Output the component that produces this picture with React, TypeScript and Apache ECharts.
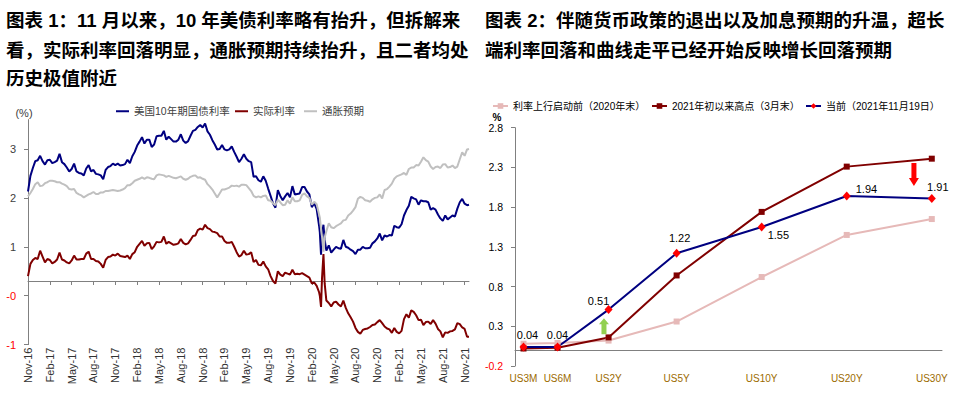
import React, { useEffect, useRef } from "react";
import * as echarts from "echarts";

const FONT = '"Liberation Sans", Arial, "Noto Sans CJK SC", sans-serif';

const title1Lines = [
  "图表 1：11 月以来，10 年美债利率略有抬升，但拆解来",
  "看，实际利率回落明显，通胀预期持续抬升，且二者均处",
  "历史极值附近",
];
const title2Lines = [
  "图表 2：伴随货币政策的退出以及加息预期的升温，超长",
  "端利率回落和曲线走平已经开始反映增长回落预期",
];

// ---------- Left chart data ----------
const leftSeriesNames = ["美国10年期国债利率", "实际利率", "通胀预期"];
const xTickLabels = [
  "Nov-16", "Feb-17", "May-17", "Aug-17", "Nov-17", "Feb-18", "May-18", "Aug-18", "Nov-18",
  "Feb-19", "May-19", "Aug-19", "Nov-19", "Feb-20", "May-20", "Aug-20", "Nov-20", "Feb-21",
  "May-21", "Aug-21", "Nov-21",
];
const leftYTicks = [-1.3, -0.3, 0.7, 1.7, 2.7];

const dates = [
  "2016-11-01", "2016-11-11", "2016-11-21", "2016-12-01", "2016-12-11", "2016-12-21",
  "2017-01-01", "2017-01-11", "2017-01-21", "2017-02-01", "2017-02-11", "2017-02-21",
  "2017-03-01", "2017-03-11", "2017-03-21", "2017-04-01", "2017-04-11", "2017-04-21",
  "2017-05-01", "2017-05-11", "2017-05-21", "2017-06-01", "2017-06-11", "2017-06-21",
  "2017-07-01", "2017-07-11", "2017-07-21", "2017-08-01", "2017-08-11", "2017-08-21",
  "2017-09-01", "2017-09-11", "2017-09-21", "2017-10-01", "2017-10-11", "2017-10-21",
  "2017-11-01", "2017-11-11", "2017-11-21", "2017-12-01", "2017-12-11", "2017-12-21",
  "2018-01-01", "2018-01-11", "2018-01-21", "2018-02-01", "2018-02-11", "2018-02-21",
  "2018-03-01", "2018-03-11", "2018-03-21", "2018-04-01", "2018-04-11", "2018-04-21",
  "2018-05-01", "2018-05-11", "2018-05-21", "2018-06-01", "2018-06-11", "2018-06-21",
  "2018-07-01", "2018-07-11", "2018-07-21", "2018-08-01", "2018-08-11", "2018-08-21",
  "2018-09-01", "2018-09-11", "2018-09-21", "2018-10-01", "2018-10-11", "2018-10-21",
  "2018-11-01", "2018-11-11", "2018-11-21", "2018-12-01", "2018-12-11", "2018-12-21",
  "2019-01-01", "2019-01-11", "2019-01-21", "2019-02-01", "2019-02-11", "2019-02-21",
  "2019-03-01", "2019-03-11", "2019-03-21", "2019-04-01", "2019-04-11", "2019-04-21",
  "2019-05-01", "2019-05-11", "2019-05-21", "2019-06-01", "2019-06-11", "2019-06-21",
  "2019-07-01", "2019-07-11", "2019-07-21", "2019-08-01", "2019-08-11", "2019-08-21",
  "2019-09-01", "2019-09-11", "2019-09-21", "2019-10-01", "2019-10-11", "2019-10-21",
  "2019-11-01", "2019-11-11", "2019-11-21", "2019-12-01", "2019-12-11", "2019-12-21",
  "2020-01-01", "2020-01-11", "2020-01-21", "2020-02-01", "2020-02-11", "2020-02-21",
  "2020-03-01", "2020-03-04", "2020-03-09", "2020-03-13", "2020-03-19", "2020-03-24",
  "2020-04-01", "2020-04-11", "2020-04-21", "2020-05-01", "2020-05-11", "2020-05-21",
  "2020-06-01", "2020-06-11", "2020-06-21", "2020-07-01", "2020-07-11", "2020-07-21",
  "2020-08-01", "2020-08-11", "2020-08-21", "2020-09-01", "2020-09-11", "2020-09-21",
  "2020-10-01", "2020-10-11", "2020-10-21", "2020-11-01", "2020-11-11", "2020-11-21",
  "2020-12-01", "2020-12-11", "2020-12-21",
  "2021-01-01", "2021-01-11", "2021-01-21", "2021-02-01", "2021-02-11", "2021-02-21",
  "2021-03-01", "2021-03-11", "2021-03-21", "2021-04-01", "2021-04-11", "2021-04-21",
  "2021-05-01", "2021-05-11", "2021-05-21", "2021-06-01", "2021-06-11", "2021-06-21",
  "2021-07-01", "2021-07-11", "2021-07-21", "2021-08-01", "2021-08-11", "2021-08-21",
  "2021-09-01", "2021-09-11", "2021-09-21", "2021-10-01", "2021-10-11", "2021-10-21",
  "2021-11-01", "2021-11-11", "2021-11-19",
];

const nominal10Y = [
  1.83, 2.15, 2.31, 2.45, 2.47, 2.56,
  2.45, 2.38, 2.47, 2.48, 2.41, 2.43, 2.46, 2.60, 2.43, 2.39, 2.32, 2.24,
  2.29, 2.40, 2.24, 2.21, 2.20, 2.16, 2.30, 2.37, 2.24, 2.27, 2.19, 2.18,
  2.16, 2.08, 2.27, 2.33, 2.35, 2.40, 2.37, 2.40, 2.36, 2.37, 2.39, 2.48,
  2.41, 2.55, 2.64, 2.77, 2.85, 2.94, 2.81, 2.89, 2.89, 2.74, 2.79, 2.96,
  2.97, 2.97, 3.07, 2.89, 2.95, 2.90, 2.85, 2.85, 2.89, 3.00, 2.87, 2.82,
  2.86, 2.97, 3.07, 3.09, 3.15, 3.19, 3.14, 3.22, 3.06, 2.99, 2.88, 2.79,
  2.69, 2.70, 2.78, 2.69, 2.67, 2.69, 2.75, 2.64, 2.54, 2.43, 2.50, 2.59,
  2.50, 2.45, 2.43, 2.13, 2.14, 2.06, 2.03, 2.14, 2.05, 1.89, 1.74, 1.59,
  1.50, 1.86, 1.74, 1.65, 1.73, 1.80, 1.71, 1.94, 1.77, 1.78, 1.79, 1.92,
  1.92, 1.83, 1.77, 1.51, 1.59, 1.47, 1.13, 1.00, 0.54, 0.96, 1.15, 0.84,
  0.62, 0.73, 0.58, 0.64, 0.70, 0.67, 0.66, 0.84, 0.70, 0.68, 0.64, 0.61,
  0.55, 0.64, 0.64, 0.70, 0.67, 0.67, 0.68, 0.77, 0.81, 0.87, 0.97, 0.83,
  0.93, 0.91, 0.94,
  0.93, 1.13, 1.10, 1.09, 1.16, 1.34, 1.45, 1.54, 1.72, 1.69, 1.67, 1.56,
  1.65, 1.63, 1.63, 1.61, 1.46, 1.49, 1.46, 1.36, 1.28, 1.23, 1.34, 1.26,
  1.30, 1.34, 1.32, 1.48, 1.61, 1.68, 1.58, 1.55, 1.56,
];

const realRate = [
  0.10, 0.35, 0.43, 0.47, 0.45, 0.62,
  0.50, 0.38, 0.45, 0.43, 0.36, 0.39, 0.44, 0.58, 0.44, 0.42, 0.38, 0.36,
  0.42, 0.52, 0.44, 0.44, 0.45, 0.45, 0.56, 0.60, 0.45, 0.45, 0.41, 0.40,
  0.35, 0.27, 0.43, 0.49, 0.50, 0.54, 0.52, 0.56, 0.51, 0.50, 0.49, 0.52,
  0.45, 0.55, 0.59, 0.70, 0.76, 0.82, 0.72, 0.77, 0.78, 0.65, 0.71, 0.80,
  0.79, 0.80, 0.91, 0.76, 0.80, 0.77, 0.74, 0.75, 0.77, 0.86, 0.78, 0.75,
  0.77, 0.84, 0.92, 0.93, 1.04, 1.07, 1.05, 1.15, 1.08, 1.06, 1.01, 1.00,
  0.98, 0.91, 0.91, 0.82, 0.78, 0.78, 0.80, 0.70, 0.59, 0.50, 0.53, 0.62,
  0.54, 0.55, 0.59, 0.39, 0.43, 0.33, 0.32, 0.40, 0.30, 0.24, 0.10, 0.00,
  -0.05, 0.20, 0.13, 0.10, 0.17, 0.15, 0.13, 0.23, 0.14, 0.15, 0.14, 0.16,
  0.13, 0.10, 0.07, -0.05, -0.03, -0.10, -0.23, -0.30, -0.53, 0.05, 0.55, -0.05,
  -0.40, -0.45, -0.52, -0.44, -0.42, -0.48, -0.52, -0.40, -0.55, -0.66, -0.74, -0.83,
  -0.96, -1.04, -1.08, -1.00, -0.98, -0.97, -0.94, -0.90, -0.89, -0.84, -0.80, -0.86,
  -0.93, -0.97, -0.99,
  -1.06, -0.96, -1.04, -1.07, -1.02, -0.78, -0.68, -0.75, -0.60, -0.63, -0.70, -0.80,
  -0.79, -0.90, -0.84, -0.83, -0.88, -0.80, -0.87, -0.98, -1.03, -1.15, -1.05, -1.06,
  -1.03, -1.02, -0.99, -0.86, -0.88, -0.95, -0.98, -1.14, -1.14,
];

const breakeven = [
  1.73, 1.80, 1.88, 1.98, 2.02, 1.94,
  1.95, 2.00, 2.02, 2.05, 2.05, 2.04, 2.02, 2.02, 1.99, 1.97, 1.94, 1.88,
  1.87, 1.88, 1.80, 1.77, 1.75, 1.71, 1.74, 1.77, 1.79, 1.82, 1.78, 1.78,
  1.81, 1.81, 1.84, 1.84, 1.85, 1.86, 1.85, 1.84, 1.85, 1.87, 1.90, 1.96,
  1.96, 2.00, 2.05, 2.07, 2.09, 2.12, 2.09, 2.12, 2.11, 2.09, 2.08, 2.16,
  2.18, 2.17, 2.16, 2.13, 2.15, 2.13, 2.11, 2.10, 2.12, 2.14, 2.09, 2.07,
  2.09, 2.13, 2.15, 2.16, 2.11, 2.12, 2.09, 2.07, 1.98, 1.93, 1.87, 1.79,
  1.71, 1.79, 1.87, 1.87, 1.89, 1.91, 1.95, 1.94, 1.95, 1.93, 1.97, 1.97,
  1.96, 1.90, 1.84, 1.74, 1.71, 1.73, 1.71, 1.74, 1.75, 1.65, 1.64, 1.59,
  1.55, 1.66, 1.61, 1.55, 1.56, 1.65, 1.58, 1.71, 1.63, 1.63, 1.65, 1.76,
  1.79, 1.73, 1.70, 1.56, 1.62, 1.57, 1.36, 1.30, 1.07, 0.91, 0.60, 0.89,
  1.02, 1.18, 1.10, 1.08, 1.12, 1.15, 1.18, 1.24, 1.25, 1.34, 1.38, 1.44,
  1.51, 1.68, 1.72, 1.70, 1.65, 1.64, 1.62, 1.67, 1.70, 1.71, 1.77, 1.69,
  1.86, 1.88, 1.93,
  1.99, 2.09, 2.14, 2.16, 2.18, 2.21, 2.17, 2.29, 2.32, 2.32, 2.37, 2.36,
  2.44, 2.53, 2.47, 2.44, 2.34, 2.29, 2.33, 2.34, 2.31, 2.38, 2.39, 2.32,
  2.33, 2.36, 2.31, 2.34, 2.49, 2.63, 2.56, 2.69, 2.70,
];

// ---------- Right chart data ----------
const rightSeriesNames = ["利率上行启动前（2020年末）", "2021年初以来高点（3月末）", "当前（2021年11月19日）"];
const tenors = ["US3M", "US6M", "US2Y", "US5Y", "US10Y", "US20Y", "US30Y"];
const tenorSlots = [0, 0.4, 1, 1.8, 2.8, 3.8, 4.8];
const curveEnd2020 = [0.08, 0.09, 0.12, 0.36, 0.92, 1.45, 1.65];
const curveMar2021 = [0.02, 0.03, 0.16, 0.94, 1.74, 2.31, 2.41];
const curveNov2021 = [0.04, 0.04, 0.51, 1.22, 1.55, 1.94, 1.91];

const toMonthIndex = (d: string) => {
  const [y, m, day] = d.split("-").map(Number);
  return (y - 2016) * 12 + (m - 11) + (day - 1) / 30;
};

const GRAY = "#808080";

function buildOption() {
  const xs = dates.map(toMonthIndex);
  const pair = (vals: number[]) => xs.map((x, i) => [x, vals[i]]);
  const leftTickValues = xTickLabels.map((_, i) => i * 3);

  const lineBase = {
    type: "line",
    symbol: "none",
    showSymbol: false,
    xAxisIndex: 0,
    yAxisIndex: 0,
    emphasis: { disabled: true },
    silent: true,
  };

  const labelPlace = [
    { position: "top", offset: [4, 3] },
    { position: "top", offset: [0, 3] },
    { position: "top", offset: [-10, 6] },
    { position: "top", offset: [3, 0] },
    { position: "right", offset: [-3, 8] },
    { position: "right", offset: [0, -7] },
    { position: "top", offset: [6, 4] },
  ];

  const titleTexts: any[] = [];
  title1Lines.forEach((t, i) => {
    titleTexts.push({
      type: "text",
      x: 6,
      y: [20, 50, 78][i],
      style: { text: t, fill: "#000", fontSize: 18.5, fontWeight: "bold", fontFamily: FONT, verticalAlign: "middle" },
    });
  });
  title2Lines.forEach((t, i) => {
    titleTexts.push({
      type: "text",
      x: 485,
      y: [20, 50][i],
      style: { text: t, fill: "#000", fontSize: 18.5, fontWeight: "bold", fontFamily: FONT, verticalAlign: "middle" },
    });
  });

  const leftLegend = (name: string, left: number, w: number) => ({
    left,
    top: 106,
    padding: 0,
    icon: "rect",
    itemWidth: w,
    itemHeight: 2,
    textStyle: { fontSize: 10.5, color: "#404040", fontFamily: FONT },
    data: [name],
    selectedMode: false,
  });
  const rightLegend = (name: string, left: number) => ({
    left,
    top: 101,
    padding: 0,
    itemWidth: 15,
    itemHeight: 7,
    textStyle: { fontSize: 10, color: "#000", fontFamily: FONT },
    data: [name],
    selectedMode: false,
  });

  return {
    animation: false,
    textStyle: { fontFamily: FONT },
    graphic: [
      ...titleTexts,
      {
        type: "text",
        x: 24,
        y: 113,
        style: { text: "(%)", fill: "#404040", fontSize: 11, fontFamily: FONT, align: "center", verticalAlign: "middle" },
      },
      {
        type: "text",
        x: 497,
        y: 117,
        style: { text: "%", fill: "#000", fontSize: 10, fontWeight: "bold", fontFamily: FONT, align: "center", verticalAlign: "middle" },
      },
    ],
    legend: [
      leftLegend(leftSeriesNames[0], 116, 13),
      leftLegend(leftSeriesNames[1], 235, 13),
      leftLegend(leftSeriesNames[2], 304, 13),
      rightLegend(rightSeriesNames[0], 492),
      rightLegend(rightSeriesNames[1], 651),
      rightLegend(rightSeriesNames[2], 805),
    ],
    grid: [
      { left: 28, top: 119.6, width: 441, height: 225, containLabel: false, outerBoundsMode: "none" },
      { left: 515, top: 127.7, width: 427, height: 238.3, containLabel: false, outerBoundsMode: "none" },
    ],
    xAxis: [
      {
        type: "value",
        gridIndex: 0,
        min: 0,
        max: 60.6,
        axisLine: { show: true, onZero: true, lineStyle: { color: GRAY, width: 1 } },
        axisTick: { show: true, inside: false, length: 4, customValues: leftTickValues, lineStyle: { color: GRAY } },
        axisLabel: { show: false },
        splitLine: { show: false },
      },
      {
        type: "value",
        gridIndex: 1,
        min: -0.1,
        max: 4.92,
        axisLine: { show: true, onZero: true, lineStyle: { color: GRAY, width: 1 } },
        axisTick: { show: false },
        axisLabel: { show: false },
        splitLine: { show: false },
      },
      {
        type: "value",
        gridIndex: 0,
        position: "bottom",
        min: 0,
        max: 60.6,
        axisLine: { show: false, onZero: false },
        axisTick: { show: false },
        axisLabel: {
          customValues: leftTickValues,
          rotate: 90,
          margin: 3,
          fontSize: 11,
          color: "#333",
          fontFamily: FONT,
          formatter: (v: number) => xTickLabels[Math.round(v / 3)] ?? "",
        },
        splitLine: { show: false },
      },
      {
        type: "value",
        gridIndex: 1,
        position: "bottom",
        min: -0.1,
        max: 4.92,
        axisLine: { show: false, onZero: false },
        axisTick: { show: false },
        axisLabel: {
          customValues: tenorSlots,
          margin: 7,
          fontSize: 10,
          color: "#9c6b00",
          fontFamily: FONT,
          formatter: (v: number) => {
            const i = tenorSlots.findIndex((s) => Math.abs(s - v) < 1e-6);
            return i >= 0 ? tenors[i] : "";
          },
        },
        splitLine: { show: false },
      },
    ],
    yAxis: [
      {
        type: "value",
        gridIndex: 0,
        min: -1.3,
        max: 3.3,
        axisLine: { show: true, onZero: false, lineStyle: { color: GRAY, width: 1 } },
        axisTick: { show: true, length: 4, customValues: leftYTicks, lineStyle: { color: GRAY } },
        axisLabel: {
          customValues: leftYTicks,
          margin: 12,
          fontSize: 11,
          color: "#404040",
          fontFamily: FONT,
          formatter: (v: number) => {
            const r = Math.round(v);
            return v < 0 ? "{neg|-" + Math.abs(r) + "}" : String(r);
          },
          rich: { neg: { color: "#ff0000", fontSize: 11, fontFamily: FONT } },
        },
        splitLine: { show: false },
      },
      {
        type: "value",
        gridIndex: 1,
        min: -0.2,
        max: 2.8,
        interval: 0.5,
        axisLine: { show: true, onZero: false, lineStyle: { color: GRAY, width: 1 } },
        axisTick: { show: true, length: 4, lineStyle: { color: GRAY } },
        axisLabel: {
          margin: 12,
          fontSize: 10.5,
          color: "#000",
          fontFamily: FONT,
          formatter: (v: number) => (v < 0 ? "{neg|" + v.toFixed(1) + "}" : v.toFixed(1)),
          rich: { neg: { color: "#ff0000", fontSize: 10.5, fontFamily: FONT } },
        },
        splitLine: { show: false },
      },
    ],
    series: [
      { ...lineBase, name: leftSeriesNames[0], data: pair(nominal10Y), lineStyle: { color: "#000080", width: 2 }, itemStyle: { color: "#000080" } },
      { ...lineBase, name: leftSeriesNames[1], data: pair(realRate), lineStyle: { color: "#800000", width: 2 }, itemStyle: { color: "#800000" } },
      { ...lineBase, name: leftSeriesNames[2], data: pair(breakeven), lineStyle: { color: "#c0c0c0", width: 2 }, itemStyle: { color: "#c0c0c0" } },
      {
        type: "line",
        name: rightSeriesNames[0],
        xAxisIndex: 1,
        yAxisIndex: 1,
        data: tenorSlots.map((x, i) => [x, curveEnd2020[i]]),
        symbol: "rect",
        symbolSize: 6,
        lineStyle: { color: "#e6b9b8", width: 2 },
        itemStyle: { color: "#e6b9b8" },
        emphasis: { disabled: true },
        silent: true,
      },
      {
        type: "line",
        name: rightSeriesNames[1],
        xAxisIndex: 1,
        yAxisIndex: 1,
        data: tenorSlots.map((x, i) => [x, curveMar2021[i]]),
        symbol: "rect",
        symbolSize: 6,
        lineStyle: { color: "#800000", width: 2 },
        itemStyle: { color: "#800000" },
        emphasis: { disabled: true },
        silent: true,
      },
      {
        type: "line",
        name: rightSeriesNames[2],
        xAxisIndex: 1,
        yAxisIndex: 1,
        data: tenorSlots.map((x, i) => ({
          value: [x, curveNov2021[i]],
          label: { show: true, position: labelPlace[i].position, offset: labelPlace[i].offset },
        })),
        symbol: "diamond",
        symbolSize: [8, 9],
        lineStyle: { color: "#000080", width: 2 },
        itemStyle: { color: "#ff0000" },
        label: {
          show: true,
          color: "#000",
          fontSize: 11,
          fontFamily: FONT,
          distance: 5,
          formatter: (p: any) => Number(p.value[1]).toFixed(2),
        },
        emphasis: { disabled: true },
        silent: true,
        markPoint: {
          silent: true,
          label: { show: false },
          data: [
            {
              coord: [0.946, 0.3],
              symbol: "path://M0,6L5,0L10,6L7.5,6L7.5,16L2.5,16L2.5,6Z",
              symbolSize: [10, 16],
              itemStyle: { color: "#92d050" },
            },
            {
              coord: [4.59, 2.21],
              symbol: "path://M2.5,0L7.5,0L7.5,15L10,15L5,23L0,15L2.5,15Z",
              symbolSize: [10, 23],
              itemStyle: { color: "#ff0000" },
            },
          ],
        },
      },
    ],
  };
}

export default function App() {
  const ref = useRef<HTMLDivElement>(null);
  useEffect(() => {
    if (!ref.current) return;
    const chart = echarts.init(ref.current, null, { renderer: "svg" });
    chart.setOption(buildOption() as any);
    return () => chart.dispose();
  }, []);
  return (
    <div
      ref={ref}
      style={{ position: "absolute", left: 0, top: 0, width: 954, height: 395, background: "#fff" }}
    />
  );
}
